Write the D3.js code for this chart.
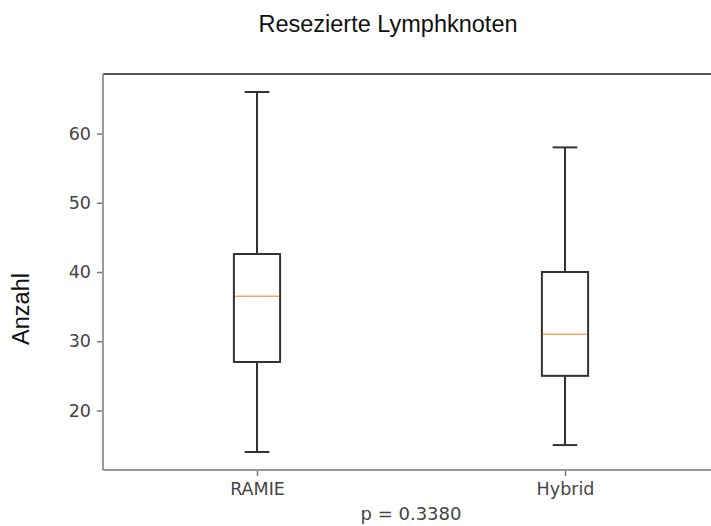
<!DOCTYPE html>
<html>
<head>
<meta charset="utf-8">
<script src="https://cdn.jsdelivr.net/npm/d3@7"></script>
<style>
  body { margin: 0; background: #fff; }
</style>
</head>
<body>
<div id="chart"></div>
<script>
// data
var categories = ["RAMIE", "Hybrid"];
var mins = [14, 15];
var q1s = [27, 25];
var medians = [36.5, 31];
var q3s = [42.6, 40];
var maxs = [66, 58];
var yTicks = [20, 30, 40, 50, 60];
var pText = "p = 0.3380";

var width = 711,
    height = 526;

var svg = d3.select("#chart")
    .append("svg")
    .attr("width", width)
    .attr("height", height);

// scales (boxes sit at 1 and 2 like matplotlib)
var x = d3.scaleLinear().domain([0.5, 2.5]).range([103, 719]);
var y = d3.scaleLinear().domain([11.4, 68.6]).range([470, 74]);

// title
svg.append("text")
    .attr("text-anchor", "middle")
    .attr("font-family", "Liberation Sans, Arial, sans-serif")
    .style("font-size", "23.5px")
    .attr("fill", "#111")
    .attr("x", 388)
    .attr("y", 32)
    .text("Resezierte Lymphknoten");

// y label
svg.append("text")
    .attr("text-anchor", "middle")
    .attr("font-family", "Liberation Sans, Arial, sans-serif")
    .style("font-size", "23.5px")
    .attr("fill", "#111")
    .attr("transform", "translate(29,309) rotate(-90)")
    .text("Anzahl");

// y axis
var yAxis = d3.axisLeft(y).tickValues(yTicks).tickSize(6).tickPadding(6);
var gy = svg.append("g")
    .attr("transform", "translate(" + x(0.5) + ",0)")
    .call(yAxis);
gy.select(".domain").remove();
gy.selectAll(".tick line").attr("stroke", "#777").attr("stroke-width", 1.5);
gy.selectAll(".tick text")
    .attr("font-family", "DejaVu Sans, sans-serif")
    .style("font-size", "17.5px")
    .attr("fill", "#444");

// x axis
var xAxis = d3.axisBottom(x).tickValues([1, 2])
    .tickFormat(function (d, i) { return categories[i]; })
    .tickSize(6).tickPadding(7);
var gx = svg.append("g")
    .attr("transform", "translate(0," + y(11.4) + ")")
    .call(xAxis);
gx.select(".domain").remove();
gx.selectAll(".tick line").attr("stroke", "#777").attr("stroke-width", 1.5);
gx.selectAll(".tick text")
    .attr("font-family", "DejaVu Sans, sans-serif")
    .style("font-size", "17.5px")
    .attr("fill", "#444");

// x label (p value)
svg.append("text")
    .attr("text-anchor", "middle")
    .attr("font-family", "DejaVu Sans, sans-serif")
    .style("font-size", "18px")
    .attr("fill", "#444")
    .attr("x", (x(0.5) + x(2.5)) / 2)
    .attr("y", 520)
    .text(pText);

// spines
svg.append("line")
    .attr("x1", x(0.5)).attr("x2", x(2.5))
    .attr("y1", y(68.6)).attr("y2", y(68.6))
    .attr("stroke", "#555").attr("stroke-width", 2);
svg.append("line")
    .attr("x1", x(0.5)).attr("x2", x(0.5))
    .attr("y1", y(68.6)).attr("y2", y(11.4))
    .attr("stroke", "#999").attr("stroke-width", 2);
svg.append("line")
    .attr("x1", x(0.5)).attr("x2", x(2.5))
    .attr("y1", y(11.4)).attr("y2", y(11.4))
    .attr("stroke", "#999").attr("stroke-width", 2);

// boxes
var boxW = 0.15,
    capW = 0.08;
var boxes = svg.selectAll(".box")
    .data(categories)
    .enter()
    .append("g")
    .attr("class", "box");

// whiskers
boxes.append("line")
    .attr("x1", function (d, i) { return x(i + 1); })
    .attr("x2", function (d, i) { return x(i + 1); })
    .attr("y1", function (d, i) { return y(mins[i]); })
    .attr("y2", function (d, i) { return y(q1s[i]); })
    .attr("stroke", "#333").attr("stroke-width", 2);
boxes.append("line")
    .attr("x1", function (d, i) { return x(i + 1); })
    .attr("x2", function (d, i) { return x(i + 1); })
    .attr("y1", function (d, i) { return y(q3s[i]); })
    .attr("y2", function (d, i) { return y(maxs[i]); })
    .attr("stroke", "#333").attr("stroke-width", 2);

// caps
boxes.append("line")
    .attr("x1", function (d, i) { return x(i + 1 - capW / 2); })
    .attr("x2", function (d, i) { return x(i + 1 + capW / 2); })
    .attr("y1", function (d, i) { return y(mins[i]); })
    .attr("y2", function (d, i) { return y(mins[i]); })
    .attr("stroke", "#333").attr("stroke-width", 2);
boxes.append("line")
    .attr("x1", function (d, i) { return x(i + 1 - capW / 2); })
    .attr("x2", function (d, i) { return x(i + 1 + capW / 2); })
    .attr("y1", function (d, i) { return y(maxs[i]); })
    .attr("y2", function (d, i) { return y(maxs[i]); })
    .attr("stroke", "#333").attr("stroke-width", 2);

// box rect
boxes.append("rect")
    .attr("x", function (d, i) { return x(i + 1 - boxW / 2); })
    .attr("width", function (d, i) { return x(i + 1 + boxW / 2) - x(i + 1 - boxW / 2); })
    .attr("y", function (d, i) { return y(q3s[i]); })
    .attr("height", function (d, i) { return y(q1s[i]) - y(q3s[i]); })
    .attr("fill", "none")
    .attr("stroke", "#333").attr("stroke-width", 2);

// median
boxes.append("line")
    .attr("x1", function (d, i) { return x(i + 1 - boxW / 2) + 1; })
    .attr("x2", function (d, i) { return x(i + 1 + boxW / 2) - 1; })
    .attr("y1", function (d, i) { return y(medians[i]); })
    .attr("y2", function (d, i) { return y(medians[i]); })
    .attr("stroke", "#f6a55e").attr("stroke-width", 1.5);
</script>
</body>
</html>
